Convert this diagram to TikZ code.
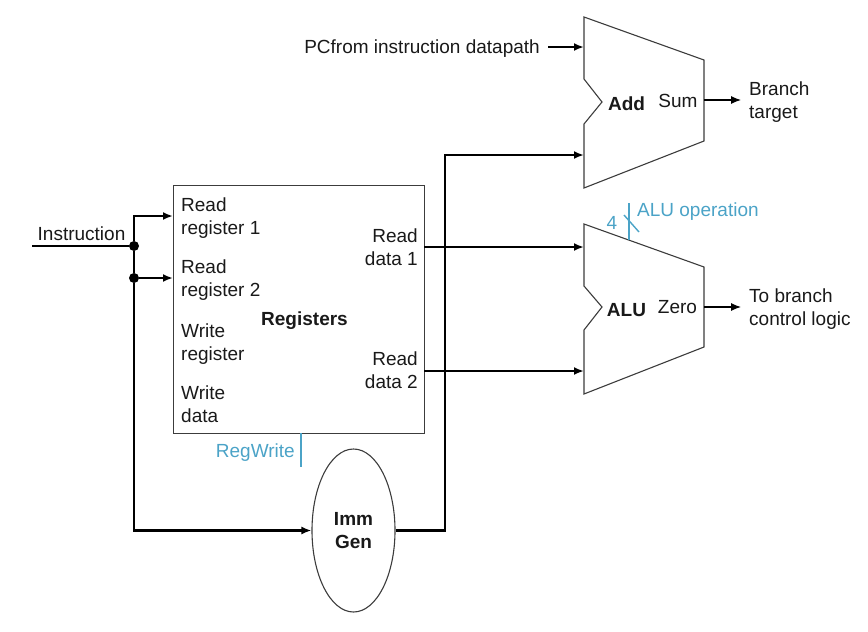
\documentclass[tikz,border=0pt]{standalone}
\usepackage{fontspec}
\setmainfont{Liberation Sans}
\usetikzlibrary{arrows.meta,positioning,shapes.geometric}
\definecolor{ctrlC}{HTML}{4BA3C7}
\definecolor{bordC}{RGB}{60,60,60}
\tikzset{
  lbl/.style={inner sep=0pt, align=left, font=\fontsize{19}{23}\selectfont, text=black!90},
  lblb/.style={lbl, align=center, font=\fontsize{19}{23}\selectfont\bfseries},
  ctrllbl/.style={lbl, text=ctrlC},
  block/.style={draw=bordC, line width=1.1pt, fill=white},
  wire/.style={-{Latex[length=10pt,width=8pt]}, line width=2.2pt, draw=black},
  wirefin/.style={-{Latex[length=10pt,width=8pt]}, line width=1.1pt, draw=black},
  plain/.style={line width=2.2pt, draw=black},
  ctrl/.style={line width=1.4pt, draw=ctrlC},
  junction/.style={circle, fill=black, inner sep=0pt, minimum size=10pt},
}
\begin{document}
\begin{tikzpicture}[x=1pt, y=-1pt]
  \useasboundingbox (0,0) rectangle (868,632);
  % adder and alu
  \draw[block] (584,17) -- (704,60) -- (704,141) -- (584,188) -- (584,124) -- (602,102) -- (584,79) -- cycle;
  \draw[block] (584,224) -- (704,267) -- (704,347) -- (584,394) -- (584,330) -- (602,307) -- (584,286) -- cycle;
  \node[draw=bordC, line width=1.1pt, minimum width=251pt, minimum height=248pt, anchor=north west] (regs) at (173,185) {};
  \node[block, ellipse, minimum width=83pt, minimum height=163pt, inner sep=0pt] (imm) at (353.5,530.5) {};
  \node[lblb] (immlbl) at (353.5,530.5) {Imm\\Gen};
  \node[lblb] (regslbl) at (304.5,320.5) {Registers};
  \node[lblb] (addlbl) at (626.5,103.5) {Add};
  \node[lblb] (alulbl) at (626.5,310) {ALU};
  \node[lbl] (sumlbl) at (678,100.5) {Sum};
  \node[lbl] (zerolbl) at (677.5,307.5) {Zero};
  % port labels
  \node[lbl, anchor=north west] (rr1) at (181,198) {Read\\register 1};
  \node[lbl, below=20.7pt of rr1.south west, anchor=north west] (rr2) {Read\\register 2};
  \node[lbl, below=22.7pt of rr2.south west, anchor=north west] (wr) {Write\\register};
  \node[lbl, below=20.7pt of wr.south west, anchor=north west] (wd) {Write\\data};
  \node[lbl, anchor=east, align=right] (rd1) at (418,247) {Read\\data 1};
  \node[lbl, anchor=east, align=right] (rd2) at (418,370) {Read\\data 2};
  % ends of the connectors
  \coordinate (instrin) at (32,246);
  \coordinate (rr1in) at (173,216);
  \coordinate (rr2in) at (173,278);
  \coordinate (addin1) at (584,47);
  \coordinate (addin2) at (584,155);
  \coordinate (aluin1) at (584,247);
  \coordinate (aluin2) at (584,371);
  \coordinate (rd1out) at (424,247);
  \coordinate (rd2out) at (424,371);
  \coordinate (sumout) at (704,100);
  \coordinate (zeroout) at (704,307);
  \coordinate (regwtop) at (301,433);
  \coordinate (regwend) at (301,467);
  \coordinate (aluoptop) at (629,203);
  \coordinate (aluopend) at (629,240);
  \coordinate (slasha) at (624,215);
  \coordinate (slashb) at (639,232);
  \coordinate (immturn) at (445,531);
  \node[junction] (j1) at (134,246) {};
  \node[junction] (j2) at (134,278) {};
  \node[lbl] (instrlbl) at (81.5,234) {Instruction};
  \node[lbl, anchor=east, inner xsep=8pt] (pclbl) at (548,49) {PCfrom instruction datapath};
  \coordinate (pcout) at (548,47);
  \node[lbl, right=37pt of sumout, inner xsep=8pt, yshift=-2pt] (branch) {Branch\\target};
  \node[lbl, right=37pt of zeroout, inner xsep=8pt, yshift=-2pt] (tobranch) {To branch\\control logic};
  \coordinate (branchin) at (741,100);
  \coordinate (tobranchin) at (741,307);
  \node[ctrllbl, anchor=east] (regwlbl) at (295,453) {RegWrite};
  \node[ctrllbl, anchor=west] (aluoplbl) at (637,212) {ALU operation};
  \node[ctrllbl] (fourlbl) at (612,222.5) {4};
  % connectors
  \draw[plain] (instrin) -- (j1);
  \draw[wire] (j1) |- (rr1in);
  \draw[plain] (j1) -- (j2);
  \draw[wire] (j2) -- (rr2in);
  \draw[wire] (j2) |- (imm.west);
  \draw[wire] (imm.east) -| (immturn |- addin2) -- (addin2);
  \draw[wire] (rd1out) -- (aluin1);
  \draw[wire] (rd2out) -- (aluin2);
  \draw[wire] (pcout) -- (addin1);
  \draw[wirefin] (sumout) -- (branchin);
  \draw[wirefin] (zeroout) -- (tobranchin);
  \draw[ctrl] (regwtop) -- (regwend);
  \draw[ctrl] (aluoptop) -- (aluopend);
  \draw[ctrl] (slasha) -- (slashb);
\end{tikzpicture}
\end{document}
